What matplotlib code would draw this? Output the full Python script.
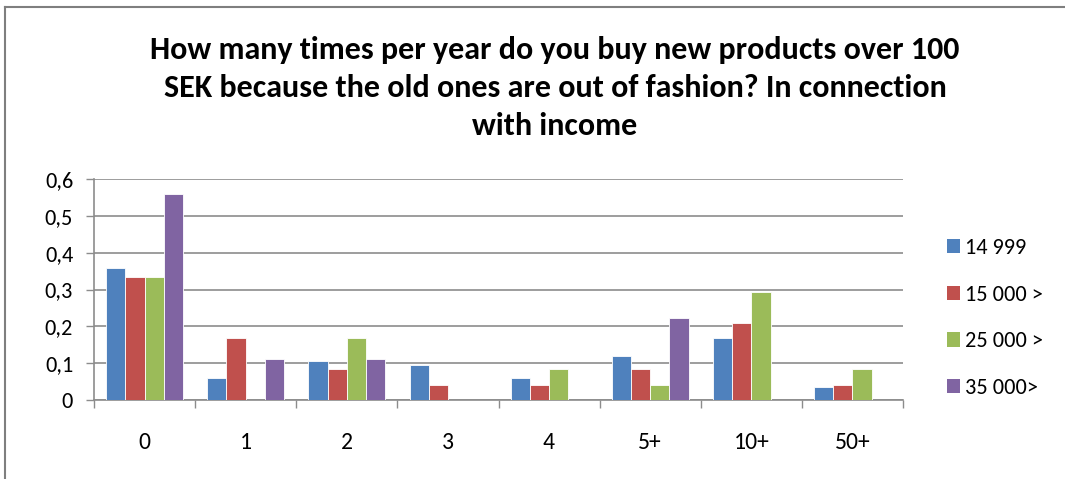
import matplotlib
matplotlib.use("Agg")
import matplotlib.pyplot as plt
from matplotlib import font_manager
from matplotlib.patches import Patch
from matplotlib.lines import Line2D
import numpy as np

categories = ["0", "1", "2", "3", "4", "5+", "10+", "50+"]
series_names = ["14 999", "15 000 >", "25 000 >", "35 000>"]
s_14999 = [0.358, 0.060, 0.105, 0.094, 0.060, 0.119, 0.167, 0.035]
s_15000 = [0.334, 0.167, 0.084, 0.042, 0.042, 0.084, 0.209, 0.042]
s_25000 = [0.334, 0.0, 0.167, 0.0, 0.084, 0.042, 0.292, 0.084]
s_35000 = [0.558, 0.112, 0.112, 0.0, 0.0, 0.223, 0.0, 0.0]
yticks = [0, 0.1, 0.2, 0.3, 0.4, 0.5, 0.6]
ytick_labels = ["0", "0,1", "0,2", "0,3", "0,4", "0,5", "0,6"]
title = ("How many times per year do you buy new products over 100\n"
         "SEK because the old ones are out of fashion? In connection\n"
         "with income")
colors = ["#4F81BD", "#C0504D", "#9BBB59", "#8064A2"]

avail = {f.name for f in font_manager.fontManager.ttflist}
font = "DejaVu Sans"
for cand in ["Carlito", "Liberation Sans Narrow", "Open Sans", "Lato"]:
    if cand in avail:
        font = cand
        break
plt.rcParams["font.family"] = [font, "DejaVu Sans"]

W, H = 1065, 479
fig = plt.figure(figsize=(W / 100, H / 100), dpi=100)
ax = fig.add_axes([94 / W, 1 - 400 / H, (903 - 94) / W, (400 - 179) / H])

series = [s_14999, s_15000, s_25000, s_35000]
x = np.arange(len(categories))
bw = 0.19
for i, (vals, c) in enumerate(zip(series, colors)):
    ax.bar(x + (i - 1.5) * bw, vals, width=bw, color=c, edgecolor="white",
           linewidth=0.6, zorder=3)

ax.set_xlim(-0.5, len(categories) - 0.5)
ax.set_ylim(0, 0.6)
ax.set_yticks(yticks)
ax.set_yticklabels(ytick_labels)
ax.set_xticks(x)
ax.set_xticklabels(categories)
ax.set_xticks(np.arange(len(categories) + 1) - 0.5, minor=True)
gray = "#8c8c8c"
ax.tick_params(axis="x", which="major", length=0, pad=23, labelsize=17, colors="black")
ax.tick_params(axis="x", which="minor", length=6, width=1, color=gray)
ax.tick_params(axis="y", length=6, width=1, color=gray, pad=9, labelsize=16)
ax.grid(axis="y", color=gray, linewidth=1.2, zorder=0)
for s in ["top", "right"]:
    ax.spines[s].set_visible(False)
for s in ["left", "bottom"]:
    ax.spines[s].set_color(gray)
    ax.spines[s].set_linewidth(1.2)

handles = [Patch(facecolor=c, edgecolor="none") for c in colors]
leg = fig.legend(handles, series_names, loc="center left",
                 bbox_to_anchor=(927 / W, 1 - 318 / H), frameon=False,
                 fontsize=16, handlelength=0.6, handleheight=0.6,
                 handletextpad=0.2, labelspacing=1.2)

t = fig.text(555 / W, 1 - 88 / H, title, ha="center", va="center",
             fontsize=23, fontweight="bold", linespacing=1.42)

# outer chart border (left and top visible)
fig.add_artist(Line2D([5 / W, 5 / W], [0, 1 - 7 / H], transform=fig.transFigure,
                      color="#7f7f7f", linewidth=1.5))
fig.add_artist(Line2D([5 / W, 1], [1 - 7 / H, 1 - 7 / H], transform=fig.transFigure,
                      color="#7f7f7f", linewidth=1.5))

fig.savefig("out.png", dpi=100)
